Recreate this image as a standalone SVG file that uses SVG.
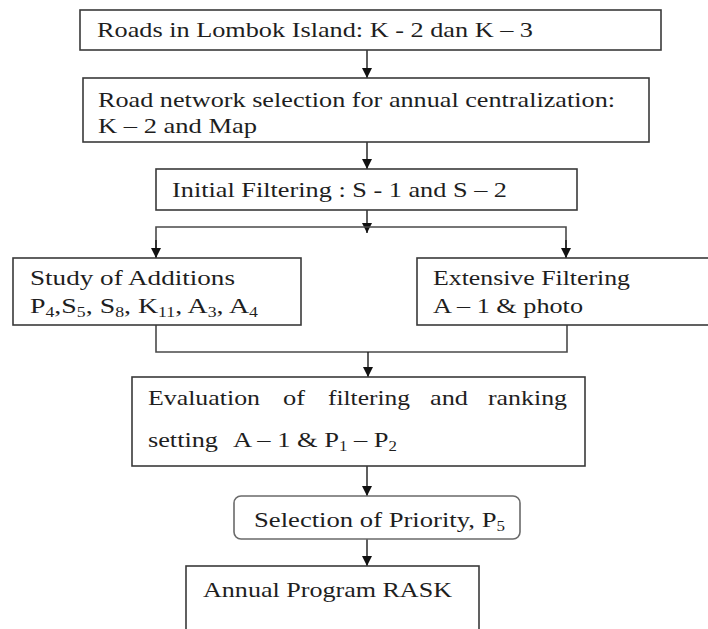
<svg xmlns="http://www.w3.org/2000/svg" width="708" height="629" viewBox="0 0 708 629">
<style>
.box{fill:#fff;stroke:#3a3a3a;stroke-width:1.6}
.rbox{fill:#fff;stroke:#6a6a6a;stroke-width:1.6}
.t{font-family:"Liberation Serif","Times New Roman",serif;font-size:22px;fill:#1e1e1e}
.sub{font-size:14px}
.c{fill:none;stroke:#1a1a1a;stroke-width:1.4}
.cg{fill:none;stroke:#4a4a4a;stroke-width:1.6}
</style>
<defs>
<marker id="ah" viewBox="0 0 10 10" refX="10" refY="5" markerWidth="10" markerHeight="10" markerUnits="userSpaceOnUse" orient="auto">
<path d="M0,0 L10,5 L0,10 Z" fill="#111"/>
</marker>
</defs>
<rect width="708" height="629" fill="#fff"/>
<g id="connectors">
<line class="c" x1="367" y1="50" x2="367" y2="78" marker-end="url(#ah)"/>
<line class="c" x1="367" y1="142" x2="367" y2="169" marker-end="url(#ah)"/>
<line class="c" x1="367" y1="210" x2="367" y2="233" marker-end="url(#ah)"/>
<polyline class="cg" points="156,258 156,227 566,227 566,258"/>
<line class="c" x1="156" y1="240" x2="156" y2="258" marker-end="url(#ah)"/>
<line class="c" x1="566" y1="240" x2="566" y2="258" marker-end="url(#ah)"/>
<polyline class="cg" points="156,325 156,352 567,352 567,325"/>
<line class="c" x1="368" y1="352" x2="368" y2="377" marker-end="url(#ah)"/>
<line class="c" x1="367" y1="466" x2="367" y2="496" marker-end="url(#ah)"/>
<line class="c" x1="367" y1="539" x2="367" y2="566" marker-end="url(#ah)"/>
</g>
<g id="n1">
<rect class="box" x="80" y="10" width="581" height="40"/>
<text class="t" x="97" y="37" textLength="436" lengthAdjust="spacingAndGlyphs">Roads in Lombok Island: K - 2 dan K – 3</text>
</g>
<g id="n2">
<rect class="box" x="83" y="78" width="566" height="64"/>
<text class="t" x="98" y="107" textLength="517" lengthAdjust="spacingAndGlyphs">Road network selection for annual centralization:</text>
<text class="t" x="98" y="133" textLength="159" lengthAdjust="spacingAndGlyphs">K – 2 and Map</text>
</g>
<g id="n3">
<rect class="box" x="156" y="169" width="421" height="41"/>
<text class="t" x="172" y="197" textLength="335" lengthAdjust="spacingAndGlyphs">Initial Filtering : S - 1 and S – 2</text>
</g>
<g id="n4">
<rect class="box" x="13" y="258" width="288" height="67"/>
<text class="t" x="30" y="285" textLength="205" lengthAdjust="spacingAndGlyphs">Study of Additions</text>
<text class="t" x="30" y="313" textLength="228" lengthAdjust="spacingAndGlyphs">P<tspan class="sub" dy="4">4</tspan><tspan dy="-4">,S</tspan><tspan class="sub" dy="4">5</tspan><tspan dy="-4">, S</tspan><tspan class="sub" dy="4">8</tspan><tspan dy="-4">, K</tspan><tspan class="sub" dy="4">11</tspan><tspan dy="-4">, A</tspan><tspan class="sub" dy="4">3</tspan><tspan dy="-4">, A</tspan><tspan class="sub" dy="4">4</tspan></text>
</g>
<g id="n5">
<rect class="box" x="417" y="258" width="296" height="67"/>
<text class="t" x="433" y="285" textLength="197" lengthAdjust="spacingAndGlyphs">Extensive Filtering</text>
<text class="t" x="433" y="313" textLength="150" lengthAdjust="spacingAndGlyphs">A – 1 &amp; photo</text>
</g>
<g id="n6">
<rect class="box" x="132" y="377" width="453" height="89"/>
<text class="t" x="148" y="405" textLength="112" lengthAdjust="spacingAndGlyphs">Evaluation</text>
<text class="t" x="283" y="405" textLength="22" lengthAdjust="spacingAndGlyphs">of</text>
<text class="t" x="328" y="405" textLength="82" lengthAdjust="spacingAndGlyphs">filtering</text>
<text class="t" x="430" y="405" textLength="38" lengthAdjust="spacingAndGlyphs">and</text>
<text class="t" x="488" y="405" textLength="79" lengthAdjust="spacingAndGlyphs">ranking</text>
<text class="t" x="148" y="447" textLength="70" lengthAdjust="spacingAndGlyphs">setting</text>
<text class="t" x="233" y="447" textLength="164" lengthAdjust="spacingAndGlyphs">A – 1 &amp; P<tspan class="sub" dy="4">1</tspan><tspan dy="-4"> – P</tspan><tspan class="sub" dy="4">2</tspan></text>
</g>
<g id="n7">
<rect class="rbox" x="234" y="496" width="286" height="43" rx="7" ry="7"/>
<text class="t" x="254" y="527" textLength="251" lengthAdjust="spacingAndGlyphs">Selection of Priority, P<tspan class="sub" dy="4">5</tspan></text>
</g>
<g id="n8">
<rect class="box" x="186" y="566" width="293" height="80"/>
<text class="t" x="203" y="597" textLength="249" lengthAdjust="spacingAndGlyphs">Annual Program RASK</text>
</g>
</svg>
